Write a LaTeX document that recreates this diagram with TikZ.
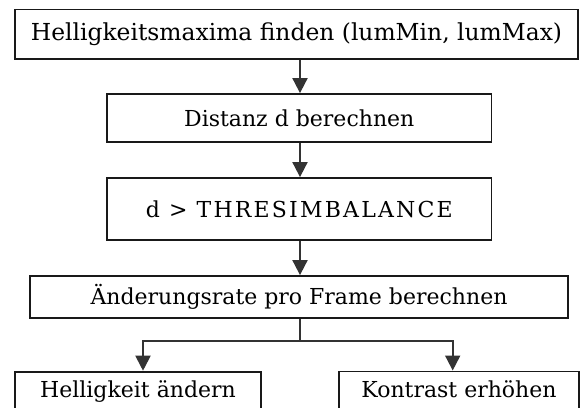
\documentclass[tikz,border=0pt]{standalone}
\usepackage{fontspec}
\setmainfont{DejaVu Serif}
\newfontfamily\widefont[LetterSpace=10]{DejaVu Serif}
\usetikzlibrary{arrows.meta}
\begin{document}
\begin{tikzpicture}[x=1pt,y=-1pt,
  box/.style={draw=black!90, line width=1.8pt, rectangle, inner sep=0pt, fill=white},
  conn/.style={draw=black!80, line width=1.9pt},
  arr/.style={conn, -{Triangle[width=15pt,length=15pt]}},
  txt/.style={font=\fontsize{22}{26}\selectfont}
]
\useasboundingbox (0,0) rectangle (580,407);
\fill[white] (0,0) rectangle (580,407);
\begin{scope}
\clip (0,0) rectangle (580,407);
\node[box, font=\fontsize{23.4}{27}\selectfont, minimum width=563pt, minimum height=49.5pt] (b1) at (296.5,34.25) {Helligkeitsmaxima finden (lumMin, lumMax)};
\node[box, txt, minimum width=384.5pt, minimum height=48pt] (b2) at (299.25,118) {Distanz d berechnen};
\node[box, font=\widefont\fontsize{22}{26}\selectfont, minimum width=384.5pt, minimum height=62pt] (b3) at (299.25,209) {d > THRESIMBALANCE};
\node[box, txt, minimum width=538pt, minimum height=42pt] (b4) at (299,297) {Änderungsrate pro Frame berechnen};
\node[box, txt, minimum width=246pt, text height=26pt, text depth=30pt, anchor=north] (b5) at (138,370.7) {Helligkeit ändern};
\node[box, txt, minimum width=240pt, text height=26pt, text depth=30pt, anchor=north] (b6) at (459,370.5) {Kontrast erhöhen};
\coordinate (split) at (300,340.7);
\coordinate (la) at (143,340.7);
\coordinate (ra) at (452.7,340.7);
\draw[arr] (b1.south -| split) -- (b2.north -| split);
\draw[arr] (b2.south -| split) -- (b3.north -| split);
\draw[arr] (b3.south -| split) -- (b4.north -| split);
\draw[conn] (b4.south -| split) -- (split);
\draw[conn, line cap=rect] (la) -- (ra);
\draw[arr] (la) -- (la |- b5.north);
\draw[arr] (ra) -- (ra |- b6.north);
\end{scope}
\end{tikzpicture}
\end{document}
